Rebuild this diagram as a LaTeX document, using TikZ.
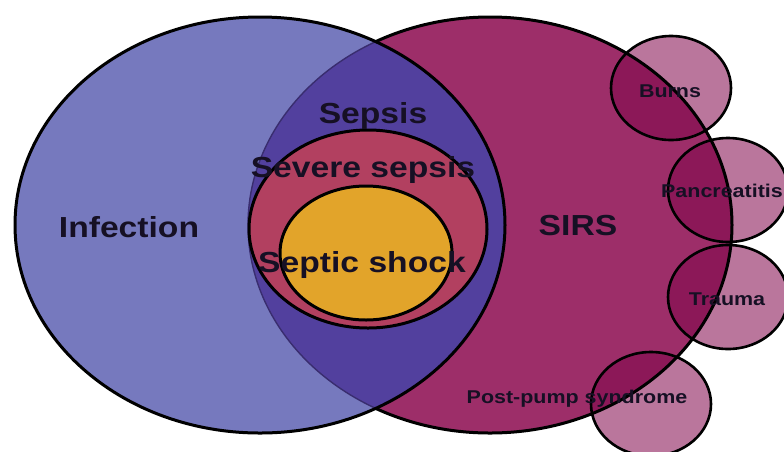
\documentclass[tikz,border=0pt]{standalone}
\usepackage{fontspec}
\setmainfont{Liberation Sans}
\usetikzlibrary{positioning}
\definecolor{infblue}{RGB}{118,121,190}
\definecolor{sirsred}{RGB}{157,46,105}
\definecolor{sepsviolet}{RGB}{82,64,158}
\definecolor{severered}{RGB}{178,64,96}
\definecolor{shockgold}{RGB}{226,164,42}
\definecolor{causelight}{RGB}{186,118,156}
\definecolor{causedark}{RGB}{140,24,88}
\definecolor{labelink}{RGB}{22,16,36}

\begin{document}
\begin{tikzpicture}[x=1pt,y=-1pt,
    outline/.style={draw=black,line width=3pt},
    biglabel/.style={font=\fontsize{29}{29}\selectfont\bfseries,anchor=base,xscale=1.16,text=labelink},
    smalllabel/.style={font=\fontsize{18.5}{18.5}\selectfont\bfseries,anchor=base,xscale=1.16,text=labelink}]
  \useasboundingbox (0,0) rectangle (784,451);
  \def\sirs{(490,225) ellipse [x radius=242,y radius=208]}
  \def\infection{(260,225) ellipse [x radius=245,y radius=208]}
  % the two big sets and their overlap
  \fill[sirsred] \sirs;
  \fill[infblue] \infection;
  \begin{scope}
    \clip \sirs;
    \fill[sepsviolet] \infection;
  \end{scope}
  % causes of SIRS
  \foreach \cx/\cy in {671/88,728/190,728/297,651/404}
    \fill[causelight] (\cx,\cy) ellipse [x radius=60,y radius=52];
  \begin{scope}
    \clip \sirs;
    \foreach \cx/\cy in {671/88,728/190,728/297,651/404}
      \fill[causedark] (\cx,\cy) ellipse [x radius=60,y radius=52];
  \end{scope}
  % faint SIRS edge inside the infection set
  \begin{scope}
    \clip \infection;
    \draw[line width=1.4pt,color=sepsviolet!70!black] \sirs;
  \end{scope}
  % nested sepsis sets
  \fill[severered] (368,229) ellipse [x radius=119,y radius=99];
  \fill[shockgold] (366,253) ellipse [x radius=86,y radius=67];
  % outlines
  \begin{scope}[even odd rule]
    \clip (-10,-10) rectangle (800,460) \infection;
    \draw[outline] \sirs;
  \end{scope}
  \draw[outline] \infection;
  \foreach \cx/\cy in {671/88,728/190,728/297,651/404}
    \draw[outline,line width=2.6pt] (\cx,\cy) ellipse [x radius=60,y radius=52];
  \draw[outline] (368,229) ellipse [x radius=119,y radius=99];
  \draw[outline] (366,253) ellipse [x radius=86,y radius=67];
  % labels
  \node[biglabel] (infection) at (129,237) {Infection};
  \node[biglabel] (sirs) at (578,235) {SIRS};
  \node[biglabel] (sepsis) at (373,123) {Sepsis};
  \node[biglabel] (severe) at (363,177) {Severe sepsis};
  \node[biglabel] (shock) at (362,272) {Septic shock};
  \node[smalllabel] (burns) at (670,97) {Burns};
  \node[smalllabel] (pancreatitis) at (722,197) {Pancreatitis};
  \node[smalllabel] (trauma) at (727,305) {Trauma};
  \node[smalllabel] (pump) at (577,403) {Post-pump syndrome};
\end{tikzpicture}
\end{document}
